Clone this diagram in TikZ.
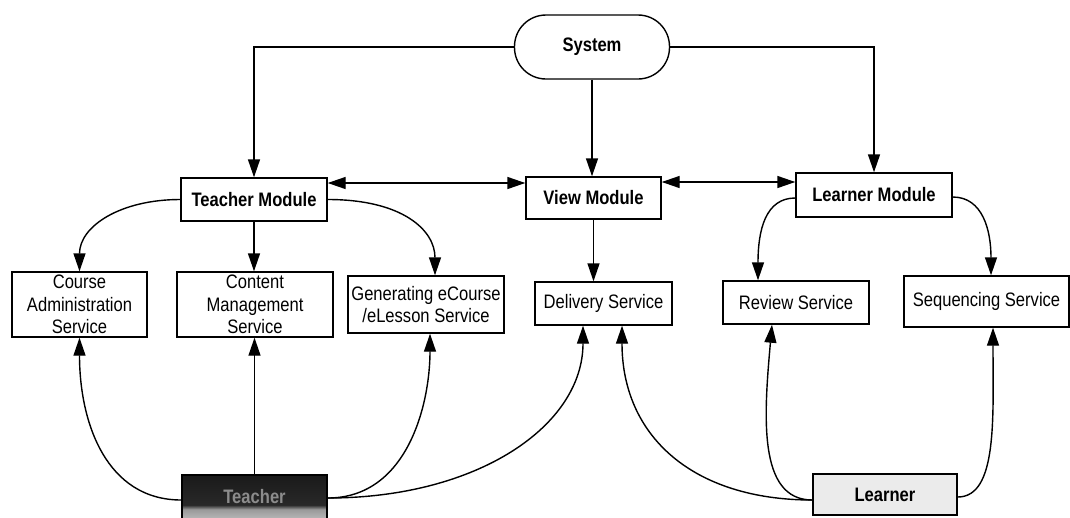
\documentclass[tikz,border=0pt]{standalone}
\usepackage{fontspec}
\newfontfamily\diagfont[FakeStretch=0.85]{Liberation Sans}
\usetikzlibrary{arrows.meta}
% dark top, light band at the bottom of the actor box
\pgfdeclareverticalshading{teachershade}{100bp}{color(0bp)=(black!28); color(25bp)=(black!28); color(36bp)=(black!40); color(41bp)=(black!84); color(75bp)=(black!90); color(100bp)=(black!90)}

\begin{document}
\begin{tikzpicture}[x=1pt,y=-1pt,
  every node/.style={font=\diagfont\fontsize{19.5}{22.5}\selectfont, inner sep=0pt, align=center},
  box/.style={draw, line width=1.4pt, fill=white},
  conn/.style={line width=1.4pt, -{Triangle[length=18pt,width=12pt]}},
  biconn/.style={line width=1.4pt, {Triangle[length=18pt,width=12pt]}-{Triangle[length=18pt,width=12pt]}}
]
\useasboundingbox (0,0) rectangle (1070,517);

% top
\node[box, rounded corners=31.5pt, minimum width=155pt, minimum height=64pt] (sys) at (592,47) {\bfseries System};

% modules
\node[box, minimum width=146pt, minimum height=43pt] (tm) at (254,199.5) {\bfseries Teacher Module};
\node[box, minimum width=135pt, minimum height=42pt] (vm) at (593.5,198) {\bfseries View Module};
\node[box, minimum width=156pt, minimum height=44pt] (lm) at (874,195) {\bfseries Learner Module};

% services
\node[box, minimum width=135pt, minimum height=65pt] (ca) at (79.5,304.5) {Course\\Administration\\Service};
\node[box, minimum width=156pt, minimum height=65pt] (cm) at (255,304.5) {Content\\Management\\Service};
\node[box, minimum width=156pt, minimum height=57pt] (ge) at (426,304.5) {Generating eCourse\\/eLesson Service};
\node[box, minimum width=137pt, minimum height=43pt] (ds) at (603.5,303.5) {Delivery Service};
\node[box, minimum width=146pt, minimum height=43pt] (rs) at (796,302.5) {Review Service};
\node[box, minimum width=165pt, minimum height=51pt] (ss) at (986.5,301.5) {Sequencing Service};

% actors
\node[draw, line width=1.4pt, shading=teachershade, minimum width=145pt, minimum height=44pt] (te) at (254.5,497) {\color{black!45}\bfseries Teacher};
\node[draw, line width=1.4pt, fill=black!8, minimum width=144pt, minimum height=41pt] (le) at (885,494.5) {\bfseries Learner};

% system to modules
\draw[conn] (sys.west) -| (tm.north);
\draw[conn] (sys.south) -- (sys.south |- vm.north);
\draw[conn] (sys.east) -| (lm.north);

% between modules
\draw[biconn] ([yshift=16.5pt]tm.east) -- ([yshift=16.5pt]tm.east -| vm.west);
\draw[biconn] ([yshift=16pt]vm.east) -- ([yshift=16pt]vm.east -| lm.west);

% modules to services
\draw[conn] (tm.west) .. controls +(-60,0) and +(0,-45) .. (ca.north);
\draw[conn] (tm.south) -- (tm.south |- cm.north);
\draw[conn] (tm.east) .. controls +(75,0) and +(0,-45) .. ([xshift=9pt]ge.north);
\draw[conn] (vm.south) -- (vm.south |- ds.north);
\draw[conn] ([yshift=-3pt]lm.west) .. controls +(-30,0) and +(0,-50) .. ([xshift=-38pt]rs.north);
\draw[conn] ([yshift=-2pt]lm.east) .. controls +(30,0) and +(0,-45) .. ([xshift=4.5pt]ss.north);

% teacher to services
\draw[conn] ([yshift=-3pt]te.west) .. controls +(-75,0) and +(0,85) .. (ca.south);
\draw[conn] (te.north) -- (te.north |- cm.south);
\draw[conn] ([yshift=-1pt]te.east) .. controls +(80,0) and +(0,70) .. ([xshift=4pt]ge.south);
\draw[conn] ([yshift=-1pt]te.east) .. controls +(150,0) and +(0,100) .. ([xshift=-20.5pt]ds.south);

% learner to services
\draw[conn] ([yshift=-5.5pt]le.west) .. controls +(-120,0) and +(0,110) .. ([xshift=18.5pt]ds.south);
\draw[conn] ([yshift=-5.5pt]le.west) .. controls +(-55,0) and +(-8,90) .. ([xshift=-24pt]rs.south);
\draw[conn] ([yshift=-2.5pt]le.east) .. controls +(40,0) and +(0,90) .. ([xshift=6.5pt]ss.south);
\end{tikzpicture}
\end{document}
